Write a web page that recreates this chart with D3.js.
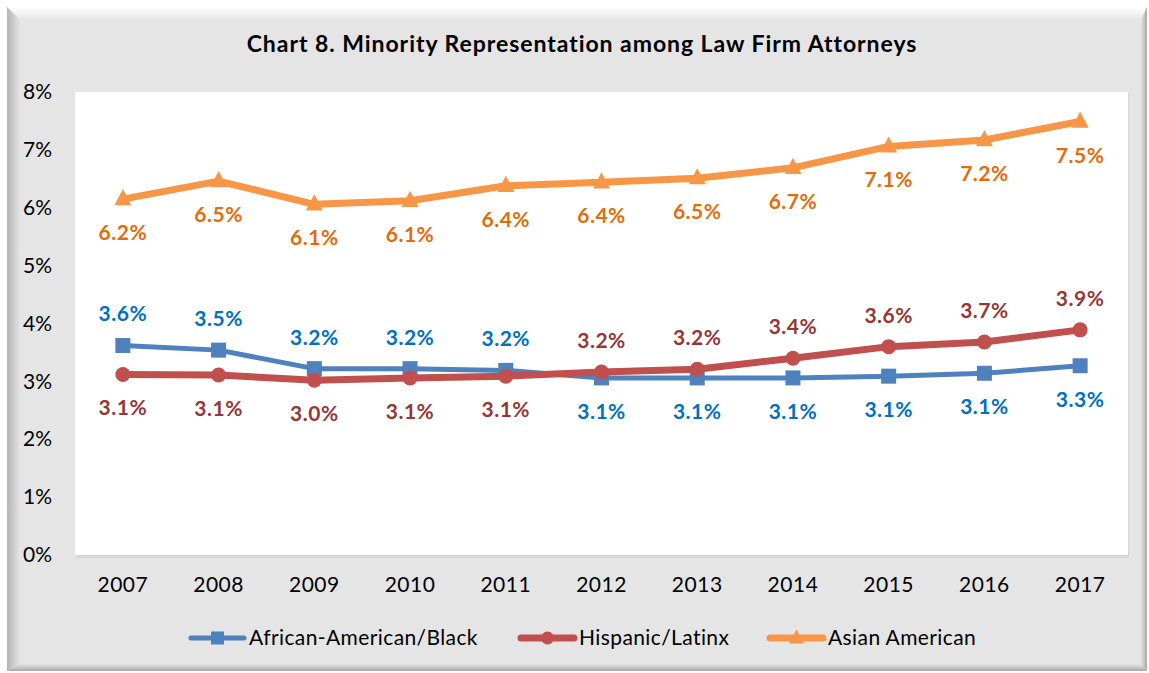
<!DOCTYPE html>
<html>
<head>
<meta charset="utf-8">
<script src="https://cdn.jsdelivr.net/npm/d3@7"></script>
<style>
  html, body { margin: 0; padding: 0; background: #ffffff; }
  svg { display: block; font-family: Lato, "Open Sans", sans-serif; }
</style>
</head>
<body>
<svg id="chart" width="1149" height="673"></svg>
<script>
// chart data
const years = ["2007", "2008", "2009", "2010", "2011", "2012", "2013", "2014", "2015", "2016", "2017"];
const black = [3.62, 3.54, 3.22, 3.22, 3.19, 3.06, 3.06, 3.06, 3.09, 3.14, 3.27];
const hispanic = [3.12, 3.11, 3.02, 3.06, 3.09, 3.16, 3.21, 3.40, 3.60, 3.68, 3.89];
const asian = [6.15, 6.46, 6.06, 6.12, 6.38, 6.44, 6.51, 6.69, 7.06, 7.17, 7.49];
const yTicks = [0, 1, 2, 3, 4, 5, 6, 7, 8];
const seriesNames = ["African-American/Black", "Hispanic/Latinx", "Asian American"];
// which side of the point each data label sits on
const blackLabelSide = ["above", "above", "above", "above", "above", "below", "below", "below", "below", "below", "below"];
const hispanicLabelSide = ["below", "below", "below", "below", "below", "above", "above", "above", "above", "above", "above"];
const asianLabelSide = ["below", "below", "below", "below", "below", "below", "below", "below", "below", "below", "below"];

const series = [
  { name: seriesNames[0], values: black, sides: blackLabelSide, color: "#4f81bd", labelColor: "#0070c0", width: 5, marker: "square" },
  { name: seriesNames[1], values: hispanic, sides: hispanicLabelSide, color: "#c0504d", labelColor: "#953735", width: 7, marker: "circle" },
  { name: seriesNames[2], values: asian, sides: asianLabelSide, color: "#f79646", labelColor: "#e36c09", width: 7, marker: "triangle" }
];

const svg = d3.select("#chart");
const plot = { left: 75, right: 1128, top: 92, bottom: 555 };

// ---- beveled frame ----
const defs = svg.append("defs");
function grad(id, x1, y1, x2, y2, c1, c2) {
  const g = defs.append("linearGradient").attr("id", id)
    .attr("x1", x1).attr("y1", y1).attr("x2", x2).attr("y2", y2);
  g.append("stop").attr("offset", "0%").attr("stop-color", c1);
  g.append("stop").attr("offset", "100%").attr("stop-color", c2);
}
grad("gTop", 0, 0, 0, 1, "#ffffff", "#e5e5e5");
grad("gLeft", 0, 0, 1, 0, "#b4b4b4", "#e5e5e5");
grad("gRight", 0, 0, 1, 0, "#e5e5e5", "#a8a8a8");
grad("gBottom", 0, 0, 0, 1, "#e5e5e5", "#a8a8a8");

const fx0 = 7, fy0 = 7, fx1 = 1147, fy1 = 671;
const bT = 13, bL = 13, bR = 6, bB = 7;
svg.append("rect").attr("x", fx0).attr("y", fy0).attr("width", fx1 - fx0).attr("height", fy1 - fy0).attr("fill", "#e5e5e5");
svg.append("polygon").attr("fill", "url(#gTop)")
  .attr("points", `${fx0},${fy0} ${fx1},${fy0} ${fx1 - bR},${fy0 + bT} ${fx0 + bL},${fy0 + bT}`);
svg.append("polygon").attr("fill", "url(#gLeft)")
  .attr("points", `${fx0},${fy0} ${fx0 + bL},${fy0 + bT} ${fx0 + bL},${fy1 - bB} ${fx0},${fy1}`);
svg.append("polygon").attr("fill", "url(#gRight)")
  .attr("points", `${fx1 - bR},${fy0 + bT} ${fx1},${fy0} ${fx1},${fy1} ${fx1 - bR},${fy1 - bB}`);
svg.append("polygon").attr("fill", "url(#gBottom)")
  .attr("points", `${fx0 + bL},${fy1 - bB} ${fx1 - bR},${fy1 - bB} ${fx1},${fy1} ${fx0},${fy1}`);

// title
svg.append("text")
  .attr("x", 582).attr("y", 52)
  .attr("text-anchor", "middle")
  .attr("font-size", 23).attr("font-weight", "bold")
  .attr("letter-spacing", 0.95)
  .attr("fill", "#000")
  .text("Chart 8. Minority Representation among Law Firm Attorneys");

// plot area with soft shadow
svg.append("rect").attr("x", plot.left + 1).attr("y", plot.top + 1)
  .attr("width", plot.right - plot.left).attr("height", plot.bottom - plot.top + 2)
  .attr("fill", "#d6d6d6");
svg.append("rect").attr("x", plot.left).attr("y", plot.top)
  .attr("width", plot.right - plot.left).attr("height", plot.bottom - plot.top)
  .attr("fill", "#ffffff");

// scales
const x = d3.scaleBand().domain(years).range([plot.left, plot.right]).padding(0);
const y = d3.scaleLinear().domain([0, 8]).range([plot.bottom, plot.top]);
const cx = d => x(d) + x.bandwidth() / 2;

// y axis
const yAxis = svg.append("g")
  .attr("transform", `translate(${plot.left},0)`)
  .call(d3.axisLeft(y).tickValues(yTicks).tickFormat(d => d + "%").tickSize(0).tickPadding(23));
yAxis.select(".domain").remove();
yAxis.selectAll("text").attr("font-size", 21).attr("fill", "#000").attr("font-family", "Lato, sans-serif");

// x axis
const xAxis = svg.append("g")
  .attr("transform", `translate(0,${plot.bottom})`)
  .call(d3.axisBottom(x).tickSize(0).tickPadding(22));
xAxis.select(".domain").remove();
xAxis.selectAll("text").attr("font-size", 21).attr("letter-spacing", 0.5).attr("fill", "#000").attr("font-family", "Lato, sans-serif");

// series
const line = d3.line().x((d, i) => cx(years[i])).y(d => y(d));

function drawMarker(g, type, px, py, color, s) {
  if (type === "square") {
    g.append("rect").attr("x", px - s / 2).attr("y", py - s / 2)
      .attr("width", s).attr("height", s).attr("fill", color);
  } else if (type === "circle") {
    g.append("circle").attr("cx", px).attr("cy", py).attr("r", s / 2).attr("fill", color);
  } else {
    const h = s * 0.95;
    g.append("polygon").attr("fill", color)
      .attr("points", `${px},${py - h * 0.62} ${px + s / 2},${py + h * 0.38} ${px - s / 2},${py + h * 0.38}`);
  }
}

series.forEach(s => {
  const g = svg.append("g");
  g.append("path").datum(s.values)
    .attr("d", line)
    .attr("fill", "none")
    .attr("stroke", s.color)
    .attr("stroke-width", s.width)
    .attr("stroke-linejoin", "round")
    .attr("stroke-linecap", "round");
  s.values.forEach((v, i) => drawMarker(g, s.marker, cx(years[i]), y(v), s.color, s.marker === "triangle" ? 17 : 15));
});

// data labels (drawn after all lines)
series.forEach(s => {
  svg.append("g").selectAll("text")
    .data(s.values)
    .join("text")
    .attr("x", (d, i) => cx(years[i]))
    .attr("y", (d, i) => y(d) + (s.sides[i] === "above" ? -24 : 41))
    .attr("text-anchor", "middle")
    .attr("font-size", 21).attr("font-weight", "bold")
    .attr("letter-spacing", 0.5)
    .attr("fill", s.labelColor)
    .text(d => d.toFixed(1) + "%");
});

// legend
const legendItems = [
  { x0: 189, s: series[0] },
  { x0: 519, s: series[1] },
  { x0: 768, s: series[2] }
];
const ly = 638;
legendItems.forEach(it => {
  const g = svg.append("g");
  g.append("line")
    .attr("x1", it.x0 + 2).attr("x2", it.x0 + 55)
    .attr("y1", ly).attr("y2", ly)
    .attr("stroke", it.s.color).attr("stroke-width", it.s.width)
    .attr("stroke-linecap", "round");
  drawMarker(g, it.s.marker, it.x0 + 28.5, ly, it.s.color, it.s.marker === "triangle" ? 15 : 13);
  g.append("text")
    .attr("x", it.x0 + 60).attr("y", ly + 7)
    .attr("font-size", 21).attr("letter-spacing", 0.4).attr("fill", "#000")
    .text(it.s.name);
});
</script>
</body>
</html>
